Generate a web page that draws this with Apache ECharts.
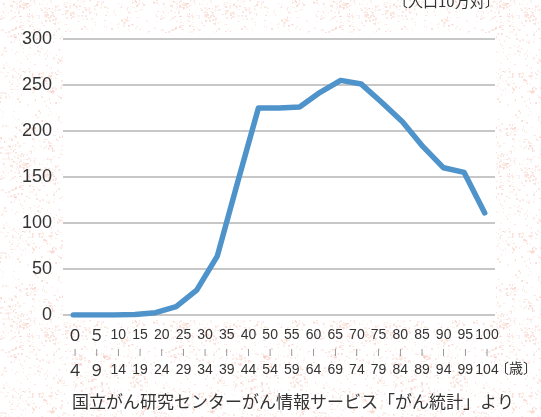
<!DOCTYPE html>
<html>
<head>
<meta charset="utf-8">
<script src="https://cdn.jsdelivr.net/npm/echarts@6/dist/echarts.min.js"></script>
<style>
  html, body { margin: 0; padding: 0; }
  #chart { width: 541px; height: 417px; }
</style>
</head>
<body>
<div id="chart"></div>
<script>
// data series: one point per 5-year age group
const ageGroups = ['0-4', '5-9', '10-14', '15-19', '20-24', '25-29', '30-34', '35-39',
  '40-44', '45-49', '50-54', '55-59', '60-64', '65-69', '70-74', '75-79', '80-84',
  '85-89', '90-94', '95-99', '100-104'];
const rates = [0, 0, 0, 0.5, 2.5, 9, 27, 64, 145, 225, 225, 226, 242, 255, 251, 231,
  210, 183, 160, 155, 111];

// axis labels as printed under the chart
const labelFrom = ['０', '５', '10', '15', '20', '25', '30', '35', '40', '50', '55',
  '60', '65', '70', '75', '80', '85', '90', '95', '100'];
const labelTo = ['４', '９', '14', '19', '24', '29', '34', '39', '44', '54', '59',
  '64', '69', '74', '79', '84', '89', '94', '99', '104'];
const yMin = 0;
const yMax = 300;
const yStep = 50;

const unitTop = '〔人口10万対〕';
const unitAge = '〔歳〕';
const source = '国立がん研究センターがん情報サービス「がん統計」より';

function speckle() {
  const c = document.createElement('canvas');
  c.width = c.height = 160;
  const g = c.getContext('2d');
  g.fillStyle = '#ffffff';
  g.fillRect(0, 0, 160, 160);
  let s = 11;
  const rnd = () => (s = (s * 16807) % 2147483647) / 2147483647;
  const dot = (x, y) => {
    const a = (0.15 + rnd() * 0.35).toFixed(2);
    g.fillStyle = `rgba(246,${(190 + rnd() * 20) | 0},${(178 + rnd() * 20) | 0},${a})`;
    g.fillRect(((x + 160) % 160) | 0, ((y + 160) % 160) | 0, 1 + ((rnd() * 2) | 0), 1 + ((rnd() * 2) | 0));
  };
  // fine grain everywhere, plus denser patches
  for (let i = 0; i < 900; i++) dot(rnd() * 160, rnd() * 160);
  for (let k = 0; k < 50; k++) {
    const cx = rnd() * 160;
    const cy = rnd() * 160;
    const r = 3 + rnd() * 8;
    for (let i = 0; i < 18; i++) dot(cx + (rnd() - 0.5) * 2 * r, cy + (rnd() - 0.5) * 2 * r);
  }
  return c;
}

const chart = echarts.init(document.getElementById('chart'));
const cjk = "'Noto Sans CJK JP', sans-serif";
const num = (v) => (/^[０-９]+$/.test(v) ? `{w|${v}}` : `{n|${v}}`);

chart.setOption({
  animation: false,
  backgroundColor: { image: speckle(), repeat: 'repeat' },
  grid: [
    { left: 63, right: 46, top: 39, bottom: 102 },
    { left: 75, right: 54, top: 39, bottom: 102 },
  ],
  xAxis: [
    {
      type: 'category',
      gridIndex: 0,
      data: ageGroups,
      boundaryGap: true,
      axisLine: { show: false },
      axisTick: { show: false },
      axisLabel: { show: false },
    },
    {
      type: 'category',
      gridIndex: 1,
      data: labelFrom,
      boundaryGap: false,
      axisLine: { show: false },
      axisTick: { show: false },
      axisLabel: {
        interval: 0,
        margin: 11,
        formatter: (v, i) => `${num(v)}\n{t||}\n${num(labelTo[i])}`,
        rich: {
          n: {
            fontFamily: "'Liberation Sans', sans-serif",
            fontSize: 14,
            color: '#333',
            lineHeight: 17.5,
          },
          w: { fontFamily: cjk, fontSize: 16, color: '#333', lineHeight: 17.5 },
          t: { fontSize: 8, color: '#666', lineHeight: 17.5 },
        },
      },
    },
  ],
  yAxis: [
    {
      type: 'value',
      gridIndex: 0,
      min: yMin,
      max: yMax,
      interval: yStep,
      axisLine: { show: false },
      axisTick: { show: false },
      axisLabel: {
        margin: 11,
        fontFamily: "'Liberation Sans Narrow', 'Liberation Sans', sans-serif",
        fontSize: 18,
        color: '#333',
      },
      splitLine: { lineStyle: { color: '#b5b5b5', width: 1.5 } },
    },
    { type: 'value', gridIndex: 1, show: false, min: yMin, max: yMax },
  ],
  graphic: [
    {
      type: 'rect',
      z: -1,
      shape: { x: 63, y: 33, width: 433, height: 287 },
      style: { fill: '#fff' },
    },
    {
      type: 'text',
      left: 393,
      top: -6,
      style: { text: unitTop, fontFamily: cjk, fontSize: 15, fill: '#333' },
    },
    {
      type: 'text',
      left: 495,
      top: 361,
      style: { text: unitAge, fontFamily: cjk, fontSize: 14, fill: '#333' },
    },
    {
      type: 'text',
      left: 72,
      top: 393,
      style: { text: source, fontFamily: cjk, fontSize: 17, fill: '#333' },
    },
  ],
  series: [
    {
      type: 'line',
      xAxisIndex: 0,
      yAxisIndex: 0,
      data: rates,
      showSymbol: false,
      lineStyle: { color: '#4f93cb', width: 5.5, cap: 'round', join: 'round' },
    },
  ],
});
</script>
</body>
</html>
